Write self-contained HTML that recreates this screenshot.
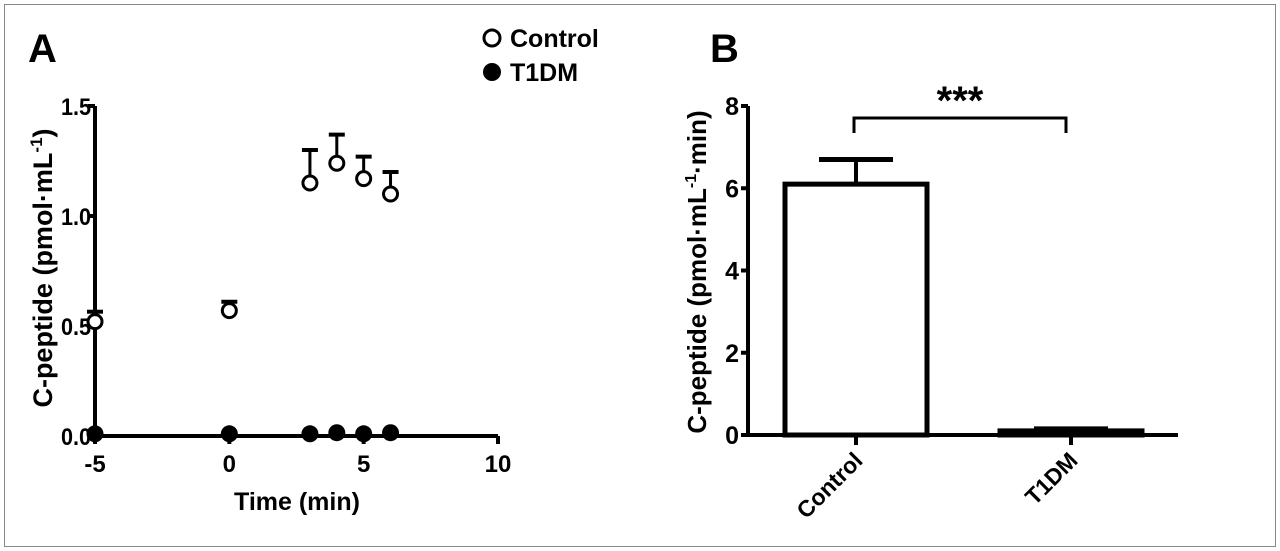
<!DOCTYPE html>
<html><head><meta charset="utf-8"><style>
body{margin:0;background:#fff}
svg{display:block;font-family:"Liberation Sans",Arial,sans-serif;font-weight:bold}
</style></head><body>
<svg width="1280" height="551" viewBox="0 0 1280 551">
<rect x="4.5" y="4.5" width="1271" height="542" fill="none" stroke="#888" stroke-width="1"/>
<text x="28" y="62" font-size="40">A</text>
<text x="710" y="62" font-size="40">B</text>
<g>
<circle cx="492" cy="38" r="8" fill="#fff" stroke="#000" stroke-width="3"/>
<text x="510" y="47" font-size="25">Control</text>
<circle cx="492" cy="72" r="9" fill="#000"/>
<text x="510" y="81" font-size="25">T1DM</text>
</g>
<g id="pa"></g>
<g id="pb"></g>
</svg>
<script>
const NS="http://www.w3.org/2000/svg";
function mk(p,t,a){const e=document.createElementNS(NS,t);for(const k in a)e.setAttribute(k,a[k]);p.appendChild(e);return e;}
// Panel A data
const timeX=[-5,0,3,4,5,6];
const controlMean=[0.52,0.57,1.15,1.24,1.17,1.10];
const controlErr=[0.045,0.04,0.15,0.13,0.10,0.10];
const t1dmMean=[0.01,0.01,0.01,0.015,0.01,0.015];
const aXTicks=[-5,0,5,10];
const aYTicks=["0.0","0.5","1.0","1.5"];
// Panel B data
const bCategories=["Control","T1DM"];
const bValues=[6.1,0.1];
const bErr=[0.6,0.05];
const bYTicks=[0,2,4,6,8];

const pa=document.getElementById('pa');
const ax=v=>95+(v+5)*(403/15), ay=v=>436-v*220;
let e;
e=mk(pa,'line',{x1:95,y1:106,x2:95,y2:436,stroke:'#000','stroke-width':4});

e=mk(pa,'line',{x1:95,y1:436,x2:498,y2:436,stroke:'#000','stroke-width':4});

aYTicks.forEach(t=>{const y=ay(+t);
 e=mk(pa,'line',{x1:88,y1:y,x2:95,y2:y,stroke:'#000','stroke-width':4});
 
 e=mk(pa,'text',{x:91,y:y+9,'font-size':24,'text-anchor':'end',transform:`translate(${91*0.1},0) scale(0.9,1)`});e.textContent=t;
 });
aXTicks.forEach(t=>{const x=ax(t);
 e=mk(pa,'line',{x1:x,y1:436,x2:x,y2:444,stroke:'#000','stroke-width':4});
 
 e=mk(pa,'text',{x:x,y:472,'font-size':24,'text-anchor':'middle'});e.textContent=t;
 });
e=mk(pa,'text',{x:297,y:510,'font-size':25,'text-anchor':'middle'});e.textContent='Time (min)';

e=mk(pa,'text',{x:0,y:0,'font-size':27,'text-anchor':'middle',transform:'translate(52,268) rotate(-90)'});
e.innerHTML='C-peptide (pmol·mL<tspan dy="-10" font-size="17">-1</tspan><tspan dy="10">)</tspan>';

timeX.forEach((t,i)=>{const x=ax(t),y=ay(controlMean[i]),yt=ay(controlMean[i]+controlErr[i]);
 e=mk(pa,'line',{x1:x,y1:y,x2:x,y2:yt,stroke:'#000','stroke-width':3});
 
 e=mk(pa,'line',{x1:x-8,y1:yt,x2:x+8,y2:yt,stroke:'#000','stroke-width':4});
 
 e=mk(pa,'circle',{cx:x,cy:y,r:7,fill:'#fff',stroke:'#000','stroke-width':3});
 
 e=mk(pa,'circle',{cx:x,cy:ay(t1dmMean[i]),r:8.5,fill:'#000'});
 });

const pb=document.getElementById('pb');
const by=v=>435-v*(329/8);
const bx=[856,1071];
e=mk(pb,'line',{x1:748,y1:106,x2:748,y2:435,stroke:'#000','stroke-width':4});

bYTicks.forEach(t=>{const y=by(t);
 e=mk(pb,'line',{x1:741,y1:y,x2:748,y2:y,stroke:'#000','stroke-width':4});
 
 e=mk(pb,'text',{x:739,y:y+9,'font-size':25,'text-anchor':'end'});e.textContent=t;
 });
e=mk(pb,'text',{x:0,y:0,'font-size':26,'text-anchor':'middle',transform:'translate(706,272) rotate(-90)'});
e.innerHTML='C-peptide (pmol·mL<tspan dy="-10" font-size="16">-1</tspan><tspan dy="10">·min)</tspan>';

bCategories.forEach((c,i)=>{const cx=bx[i],y=by(bValues[i]),yt=by(bValues[i]+bErr[i]);
 e=mk(pb,'line',{x1:cx,y1:y,x2:cx,y2:yt,stroke:'#000','stroke-width':4});
 
 e=mk(pb,'line',{x1:cx-37,y1:yt,x2:cx+37,y2:yt,stroke:'#000','stroke-width':5});
 
 e=mk(pb,'rect',{x:cx-71,y:y,width:142,height:435-y,fill:'#fff',stroke:'#000','stroke-width':5});
 
 e=mk(pb,'line',{x1:cx,y1:435,x2:cx,y2:445,stroke:'#000','stroke-width':4});
 
 e=mk(pb,'text',{x:0,y:0,'font-size':23,'text-anchor':'end',transform:`translate(${cx+8},${462}) rotate(-45)`});e.textContent=c;
 });
e=mk(pb,'line',{x1:748,y1:435,x2:1178,y2:435,stroke:'#000','stroke-width':4});

e=mk(pb,'path',{d:`M${bx[0]-2} 133 V118 H${bx[1]-5} V133`,fill:'none',stroke:'#000','stroke-width':3});

e=mk(pb,'text',{x:960,y:114,'font-size':40,'text-anchor':'middle'});e.textContent='***';

</script>
</body></html>
